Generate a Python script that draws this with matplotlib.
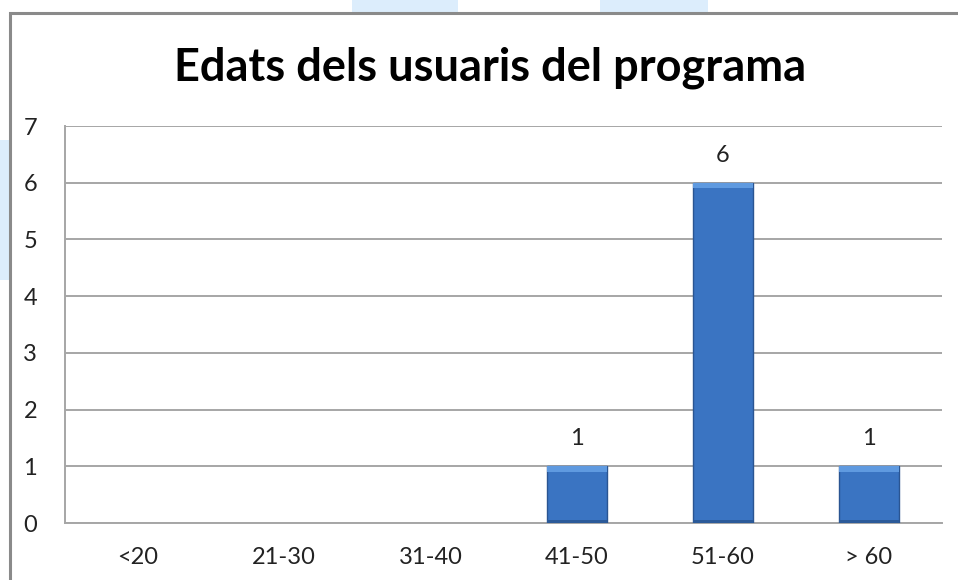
import matplotlib
matplotlib.use("Agg")
import matplotlib.pyplot as plt
from matplotlib.patches import Rectangle

# ── data ────────────────────────────────────────────────────────────────
CATEGORIES = ["<20", "21-30", "31-40", "41-50", "51-60", "> 60"]
USERS      = [0, 0, 0, 1, 6, 1]
Y_TICKS    = [0, 1, 2, 3, 4, 5, 6, 7]
TITLE      = "Edats dels usuaris del programa"

plt.rcParams["font.family"] = ["Lato", "DejaVu Sans"]

W, H = 958, 580
fig = plt.figure(figsize=(W / 100, H / 100), dpi=100)
fig.patch.set_facecolor("white")

# faint background shapes behind the chart frame
for (x0, y0, w, h) in [(352, 0, 106, 13), (600, 0, 108, 13), (0, 140, 9, 140)]:
    fig.patches.append(Rectangle((x0 / W, 1 - (y0 + h) / H), w / W, h / H,
                                 transform=fig.transFigure, facecolor="#dcedfc",
                                 edgecolor="none", zorder=0))

# chart frame (runs off the right and bottom edge)
frame = Rectangle((10 / W, -0.1), (W + 10) / W, (1 - 13 / H) + 0.1,
                  transform=fig.transFigure, facecolor="white",
                  edgecolor="#8a8a8a", linewidth=2.2, zorder=1)
fig.patches.append(frame)

ax = fig.add_axes([65 / W, 1 - 523 / H, (942 - 65) / W, (523 - 126) / H])
ax.set_facecolor("none")
ax.set_zorder(5)

x = range(len(CATEGORIES))
edges = ["#2a5592" if v > 0 else "none" for v in USERS]
bars = ax.bar(x, USERS, width=0.41, color="#3a74c2", edgecolor=edges,
              linewidth=1.0, zorder=3)
# lighter bevel on top, darker shade at the foot of each bar
for b, v in zip(bars, USERS):
    if v > 0:
        xc = b.get_x() + b.get_width() / 2
        ax.bar(xc, 0.1, bottom=v - 0.1, width=b.get_width(),
               color="#5f9ae0", edgecolor="none", zorder=4)
        ax.bar(xc, 0.06, bottom=0, width=b.get_width(),
               color="#2b5a99", edgecolor="none", zorder=4)
        ax.text(xc, v + 0.3, f"{v}", ha="center", va="bottom",
                fontsize=17, color="#222222")

ax.set_ylim(0, 7)
ax.set_xlim(-0.5, len(CATEGORIES) - 0.5)
ax.set_yticks(Y_TICKS)
ax.set_xticks(list(x))
ax.set_xticklabels(CATEGORIES)
ax.tick_params(axis="both", length=0, labelsize=17, colors="#222222")
ax.tick_params(axis="y", pad=20)
ax.tick_params(axis="x", pad=17)

ax.grid(axis="y", color="#a6a6a6", linewidth=1.4, zorder=0)
for side in ["top", "right"]:
    ax.spines[side].set_visible(False)
for side in ["left", "bottom"]:
    ax.spines[side].set_color("#a6a6a6")
    ax.spines[side].set_linewidth(1.4)

fig.text(490 / W, 1 - 68 / H, TITLE, ha="center", va="center",
         fontsize=32.5, fontweight="bold", color="black", zorder=6)

fig.savefig("out.png", dpi=100)
